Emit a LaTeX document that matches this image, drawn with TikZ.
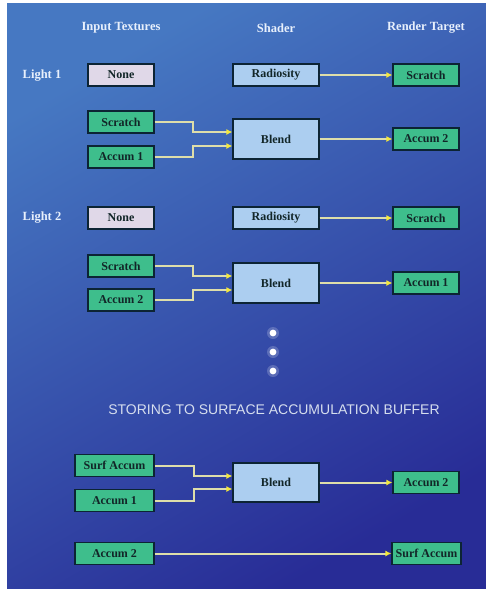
\documentclass[tikz,border=0pt]{standalone}
\usepackage{fontspec}
\setmainfont{Liberation Serif}
\newfontfamily\capsfont{Liberation Sans}
\usetikzlibrary{arrows.meta}

\definecolor{sfondoA}{RGB}{70,120,194}
\definecolor{sfondoB}{RGB}{40,44,150}
\definecolor{verde}{RGB}{62,190,140}
\definecolor{lilla}{RGB}{224,216,232}
\definecolor{azzurro}{RGB}{172,206,240}
\definecolor{bordo}{RGB}{12,36,52}
\definecolor{testo}{RGB}{18,38,40}
\definecolor{chiaro}{RGB}{232,240,252}
\definecolor{grigio}{RGB}{214,222,238}
\definecolor{filo}{RGB}{222,222,170}
\definecolor{punta}{RGB}{244,232,60}

\tikzset{
  box/.style={draw=bordo, line width=1.2pt, inner sep=0pt, minimum height=22pt,
    text=testo, font=\fontsize{12}{14}\selectfont\bfseries},
  tex/.style={box, fill=verde, minimum width=66pt},
  nulla/.style={box, fill=lilla, minimum width=66pt},
  shader/.style={box, fill=azzurro, minimum width=86pt},
  titolo/.style={text=chiaro, font=\fontsize{12.5}{14}\selectfont\bfseries},
  link/.style={draw=filo, line width=2pt, -{Latex[length=6pt,width=6pt,color=punta]}}
}

\begin{document}
\begin{tikzpicture}[x=1pt, y=-1pt]
            \useasboundingbox (0,0) rectangle (486,589);
            %sfondo
            \shade[top color=sfondoA, bottom color=sfondoB, shading angle=30] (7,3) rectangle (486,589);
            %intestazioni
            \node[titolo] (hin) at (121,28) {Input Textures};
            \node[titolo] (hsh) at (276,28) {Shader};
            \node[titolo] (hrt) at (426,28) {Render Target};
            %luce 1
            \node[titolo] (l1) at (42,76) {Light 1};
            \node[nulla] (no1) at (121,75) {None};
            \node[shader] (ra1) at (276,75) {Radiosity};
            \node[tex] (sc1) at (426,75) {Scratch};
            \node[tex] (in1a) at (121,122) {Scratch};
            \node[tex] (in1b) at (121,157) {Accum 1};
            \node[shader, minimum height=40pt] (bl1) at (276,139) {Blend};
            \node[tex] (ac1) at (426,139) {Accum 2};
            %luce 2
            \node[titolo] (l2) at (42,218) {Light 2};
            \node[nulla] (no2) at (121,218) {None};
            \node[shader] (ra2) at (276,218) {Radiosity};
            \node[tex] (sc2) at (426,218) {Scratch};
            \node[tex] (in2a) at (121,266) {Scratch};
            \node[tex] (in2b) at (121,300) {Accum 2};
            \node[shader, minimum height=40pt] (bl2) at (276,283) {Blend};
            \node[tex] (ac2) at (426,283) {Accum 1};
            %puntini
            \foreach \y in {333,352,371} {
              \fill[white, opacity=.2] (273,\y) circle (6);
              \fill[white] (273,\y) circle (3.4);
            }
            %accumulo
            \node[text=grigio, font=\capsfont\fontsize{14}{16}\selectfont] (st) at (274,410) {STORING TO SURFACE ACCUMULATION BUFFER};
            \node[tex, minimum width=79pt] (in3a) at (114.5,465.5) {Surf Accum};
            \node[tex, minimum width=79pt] (in3b) at (114.5,500.5) {Accum 1};
            \node[shader, minimum height=39pt] (bl3) at (276,482.5) {Blend};
            \node[tex] (ac3) at (426,482.5) {Accum 2};
            \node[tex, minimum width=79pt] (in4) at (114.5,553.5) {Accum 2};
            \node[tex, minimum width=69pt] (sa4) at (426.5,553.5) {Surf Accum};
            %frecce
            \draw[link] (ra1) -- (sc1);
            \draw[link] (in1a.east) -- ++(38,0) |- ([yshift=7pt]bl1.west);
            \draw[link] (in1b.east) -- ++(38,0) |- ([yshift=-7pt]bl1.west);
            \draw[link] (bl1) -- (ac1);
            \draw[link] (ra2) -- (sc2);
            \draw[link] (in2a.east) -- ++(38,0) |- ([yshift=7pt]bl2.west);
            \draw[link] (in2b.east) -- ++(38,0) |- ([yshift=-7pt]bl2.west);
            \draw[link] (bl2) -- (ac2);
            \draw[link] (in3a.east) -- ++(39,0) |- ([yshift=6.5pt]bl3.west);
            \draw[link] (in3b.east) -- ++(39,0) |- ([yshift=-6.5pt]bl3.west);
            \draw[link] (bl3) -- (ac3);
            \draw[link] (in4) -- (sa4);
\end{tikzpicture}
\end{document}
